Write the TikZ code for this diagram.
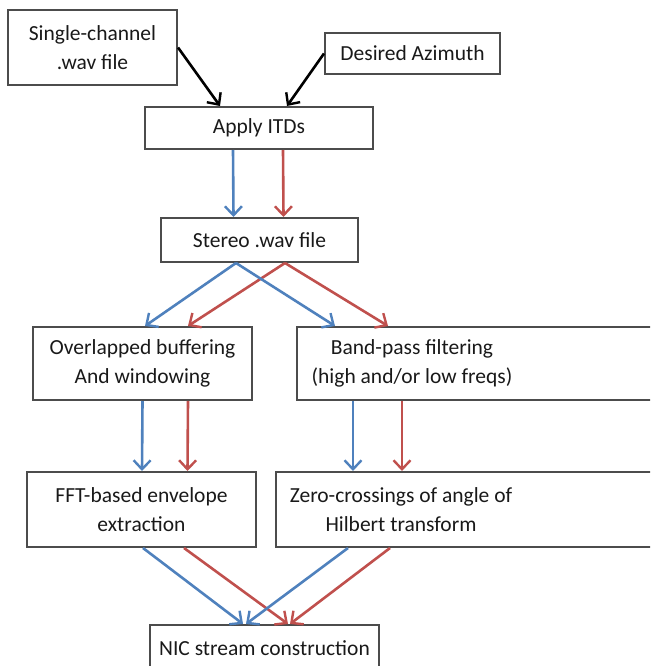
\documentclass[tikz,border=0pt]{standalone}
\usepackage{fontspec}
\setmainfont{Carlito}
\usetikzlibrary{arrows.meta}
\definecolor{chanL}{RGB}{79,129,189}
\definecolor{chanR}{RGB}{192,80,77}
\tikzset{
  blk/.style={draw=black!70, line width=2pt, align=center, inner sep=0pt, text=black!90},
  flow/.style={-{Straight Barb[length=9pt,width=17pt,line width=2.4pt]}, line width=2.6pt},
  leftch/.style={flow, draw=chanL},
  rightch/.style={flow, draw=chanR}
}
\begin{document}
\begin{tikzpicture}[x=1pt,y=-1pt,font=\fontsize{21.5}{29}\selectfont]
\useasboundingbox (0,0) rectangle (650,666);
\clip (0,0) rectangle (650,666);
\node[blk, minimum width=169, minimum height=75] (single) at (92.5,47.5) {Single-channel\\.wav file};
\node[blk, minimum width=175, minimum height=41] (azim) at (412.5,53.5) {Desired Azimuth};
\node[blk, minimum width=228, minimum height=42] (itd) at (259,128) {Apply ITDs};
\node[blk, minimum width=197, minimum height=44] (stereo) at (259.5,240) {Stereo .wav file};
\node[blk, minimum width=219, minimum height=73] (overlap) at (142.5,363.5) {Overlapped buffering\\And windowing};
\node[blk, minimum width=370, minimum height=73, anchor=west] (band) at (296,363.5) {};
\node[align=center, text=black!90] (bandtxt) at (412,363.5) {Band-pass filtering\\(high and/or low freqs)};
\node[blk, minimum width=229, minimum height=75] (fft) at (141.5,509.5) {FFT-based envelope\\extraction};
\node[blk, minimum width=390, minimum height=75, anchor=west] (zero) at (275,509.5) {};
\node[align=center, text=black!90] (zerotxt) at (401,509.5) {Zero-crossings of angle of\\Hilbert transform};
\node[blk, minimum width=229, minimum height=46, anchor=north] (nic) at (264.5,624) {NIC stream construction};
\draw[flow, draw=black] (single.east) -- ([xshift=-39]itd.north);
\draw[flow, draw=black] (azim.west) -- ([xshift=28]itd.north);
\draw[leftch] ([xshift=-26]itd.south) -- ([xshift=-26]stereo.north);
\draw[rightch] ([xshift=24]itd.south) -- ([xshift=24]stereo.north);
\draw[leftch] ([xshift=-23.5]stereo.south) -- ([xshift=2.5]overlap.north);
\draw[rightch] ([xshift=25.5]stereo.south) -- ([xshift=45.5]overlap.north);
\draw[leftch] ([xshift=-23.5]stereo.south) -- ([xshift=39]band.north west);
\draw[rightch] ([xshift=25.5]stereo.south) -- ([xshift=92]band.north west);
\draw[leftch] (overlap.south) -- ([xshift=0.5]fft.north);
\draw[rightch] ([xshift=45.5]overlap.south) -- ([xshift=46]fft.north);
\draw[leftch] ([xshift=57]band.south west) -- ([xshift=78]zero.north west);
\draw[rightch] ([xshift=106]band.south west) -- ([xshift=127]zero.north west);
\draw[leftch] ([xshift=1.5]fft.south) -- ([xshift=-21.5]nic.north);
\draw[rightch] ([xshift=42.5]fft.south) -- ([xshift=23.5]nic.north);
\draw[leftch] ([xshift=73]zero.south west) -- ([xshift=-18.5]nic.north);
\draw[rightch] ([xshift=115]zero.south west) -- ([xshift=25.5]nic.north);
\end{tikzpicture}
\end{document}
